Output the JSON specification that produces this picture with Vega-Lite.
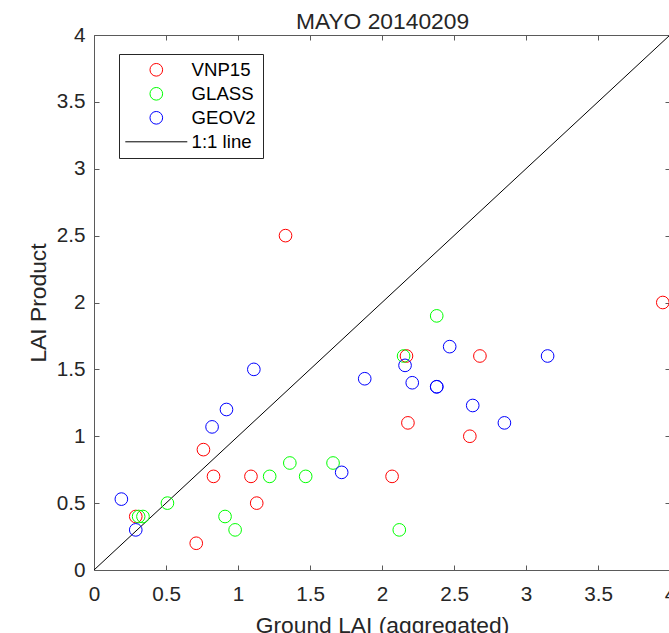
{
  "$schema": "https://vega.github.io/schema/vega-lite/v6.json",
  "width": 576,
  "height": 535,
  "autosize": {"type": "none"},
  "padding": {"left": 94, "top": 35, "right": 0, "bottom": 63},
  "background": "white",
  "config": {
    "font": "Liberation Sans",
    "view": {"stroke": "#5a5a5a", "strokeWidth": 1},
    "axis": {
      "grid": false,
      "domain": false,
      "tickColor": "#5a5a5a",
      "tickSize": -5,
      "labelColor": "#262626",
      "labelFontSize": 20.7,
      "labelFont": "Liberation Sans",
      "labelFlush": false,
      "titleFont": "Liberation Sans",
      "titleFontSize": 22.8,
      "titleFontWeight": "normal",
      "titleColor": "#262626"
    }
  },
  "datasets": {
    "line": [
      {"product": "1:1 line", "ground": 0, "lai": 0},
      {"product": "1:1 line", "ground": 4, "lai": 4}
    ],
    "points": [
      {"product": "VNP15", "ground": 1.33, "lai": 2.5},
      {"product": "VNP15", "ground": 2.17, "lai": 1.6},
      {"product": "VNP15", "ground": 2.18, "lai": 1.1},
      {"product": "VNP15", "ground": 0.76, "lai": 0.9},
      {"product": "VNP15", "ground": 0.83, "lai": 0.7},
      {"product": "VNP15", "ground": 1.09, "lai": 0.7},
      {"product": "VNP15", "ground": 2.07, "lai": 0.7},
      {"product": "VNP15", "ground": 1.13, "lai": 0.5},
      {"product": "VNP15", "ground": 0.29, "lai": 0.4},
      {"product": "VNP15", "ground": 0.71, "lai": 0.2},
      {"product": "VNP15", "ground": 3.95, "lai": 2.0},
      {"product": "VNP15", "ground": 2.68, "lai": 1.6},
      {"product": "VNP15", "ground": 2.61, "lai": 1.0},
      {"product": "GLASS", "ground": 2.15, "lai": 1.6},
      {"product": "GLASS", "ground": 2.38, "lai": 1.9},
      {"product": "GLASS", "ground": 1.36, "lai": 0.8},
      {"product": "GLASS", "ground": 1.66, "lai": 0.8},
      {"product": "GLASS", "ground": 1.22, "lai": 0.7},
      {"product": "GLASS", "ground": 1.47, "lai": 0.7},
      {"product": "GLASS", "ground": 0.51, "lai": 0.5},
      {"product": "GLASS", "ground": 0.31, "lai": 0.4},
      {"product": "GLASS", "ground": 0.34, "lai": 0.4},
      {"product": "GLASS", "ground": 0.91, "lai": 0.4},
      {"product": "GLASS", "ground": 0.98, "lai": 0.3},
      {"product": "GLASS", "ground": 2.12, "lai": 0.3},
      {"product": "GEOV2", "ground": 1.11, "lai": 1.5},
      {"product": "GEOV2", "ground": 2.16, "lai": 1.53},
      {"product": "GEOV2", "ground": 1.88, "lai": 1.43},
      {"product": "GEOV2", "ground": 2.21, "lai": 1.4},
      {"product": "GEOV2", "ground": 0.92, "lai": 1.2},
      {"product": "GEOV2", "ground": 0.82, "lai": 1.07},
      {"product": "GEOV2", "ground": 1.72, "lai": 0.73},
      {"product": "GEOV2", "ground": 0.19, "lai": 0.53},
      {"product": "GEOV2", "ground": 0.29, "lai": 0.3},
      {"product": "GEOV2", "ground": 2.47, "lai": 1.67},
      {"product": "GEOV2", "ground": 3.15, "lai": 1.6},
      {"product": "GEOV2", "ground": 2.38, "lai": 1.37},
      {"product": "GEOV2", "ground": 2.38, "lai": 1.37},
      {"product": "GEOV2", "ground": 2.63, "lai": 1.23},
      {"product": "GEOV2", "ground": 2.85, "lai": 1.1}
    ]
  },
  "layer": [
    {
      "data": {"name": "line"},
      "mark": {"type": "line", "strokeWidth": 1, "clip": true},
      "encoding": {
        "x": {
          "field": "ground", "type": "quantitative",
          "scale": {"domain": [0, 4], "nice": false, "zero": false},
          "axis": {"orient": "top", "labels": false, "title": "MAYO 20140209",
                   "titleBaseline": "alphabetic", "titleX": 288, "titleY": -6.7, "titleAnchor": null,
                   "values": [0, 0.5, 1, 1.5, 2, 2.5, 3, 3.5, 4]}
        },
        "y": {
          "field": "lai", "type": "quantitative",
          "scale": {"domain": [0, 4], "nice": false, "zero": false},
          "axis": {"orient": "right", "labels": false, "title": null, "values": [0, 0.5, 1, 1.5, 2, 2.5, 3, 3.5, 4]}
        },
        "color": {
          "field": "product", "type": "nominal",
          "scale": {"domain": ["VNP15", "GLASS", "GEOV2", "1:1 line"], "range": ["#FF0000", "#00FF00", "#0000FF", "#000000"]},
          "legend": {
            "orient": "none", "legendX": 25, "legendY": 19, "title": null,
            "strokeColor": "#262626", "fillColor": "white", "padding": 6.5,
            "symbolOffset": 21.5, "labelOffset": 26, "labelFontSize": 18.6, "labelColor": "#000000",
            "labelFont": "Liberation Sans", "rowPadding": 5, "symbolSize": 160, "symbolStrokeWidth": 1,
            "encode": {"symbols": {"update": {
              "shape": {"signal": "datum.value === '1:1 line' ? 'stroke' : 'circle'"},
              "size": {"signal": "datum.value === '1:1 line' ? 3844 : 160"},
              "fill": {"value": "transparent"},
              "strokeWidth": {"value": 1}
            }}}
          }
        }
      }
    },
    {
      "data": {"name": "points"},
      "mark": {"type": "point", "shape": "circle", "filled": false, "size": 160, "strokeWidth": 1, "opacity": 1},
      "encoding": {
        "x": {
          "field": "ground", "type": "quantitative",
          "scale": {"domain": [0, 4], "nice": false, "zero": false},
          "axis": {"orient": "bottom", "title": "Ground LAI (aggregated)", "format": "~g", "labelPadding": 19,
                   "titleBaseline": "alphabetic", "titleX": 288, "titleY": 62, "titleAnchor": null,
                   "values": [0, 0.5, 1, 1.5, 2, 2.5, 3, 3.5, 4]}
        },
        "y": {
          "field": "lai", "type": "quantitative",
          "scale": {"domain": [0, 4], "nice": false, "zero": false},
          "axis": {"orient": "left", "title": "LAI Product", "format": "~g", "labelPadding": 14,
                   "titleBaseline": "alphabetic", "titleX": -49, "titleY": 267.5, "titleAngle": -90,
                   "values": [0, 0.5, 1, 1.5, 2, 2.5, 3, 3.5, 4]}
        },
        "color": {
          "field": "product", "type": "nominal",
          "scale": {"domain": ["VNP15", "GLASS", "GEOV2", "1:1 line"], "range": ["#FF0000", "#00FF00", "#0000FF", "#000000"]},
          "legend": {
            "orient": "none", "legendX": 25, "legendY": 19, "title": null,
            "strokeColor": "#262626", "fillColor": "white", "padding": 6.5,
            "symbolOffset": 21.5, "labelOffset": 26, "labelFontSize": 18.6, "labelColor": "#000000",
            "labelFont": "Liberation Sans", "rowPadding": 5, "symbolSize": 160, "symbolStrokeWidth": 1,
            "encode": {"symbols": {"update": {
              "shape": {"signal": "datum.value === '1:1 line' ? 'stroke' : 'circle'"},
              "size": {"signal": "datum.value === '1:1 line' ? 3844 : 160"},
              "fill": {"value": "transparent"},
              "strokeWidth": {"value": 1}
            }}}
          }
        }
      }
    }
  ],
  "resolve": {"axis": {"x": "independent", "y": "independent"}}
}
